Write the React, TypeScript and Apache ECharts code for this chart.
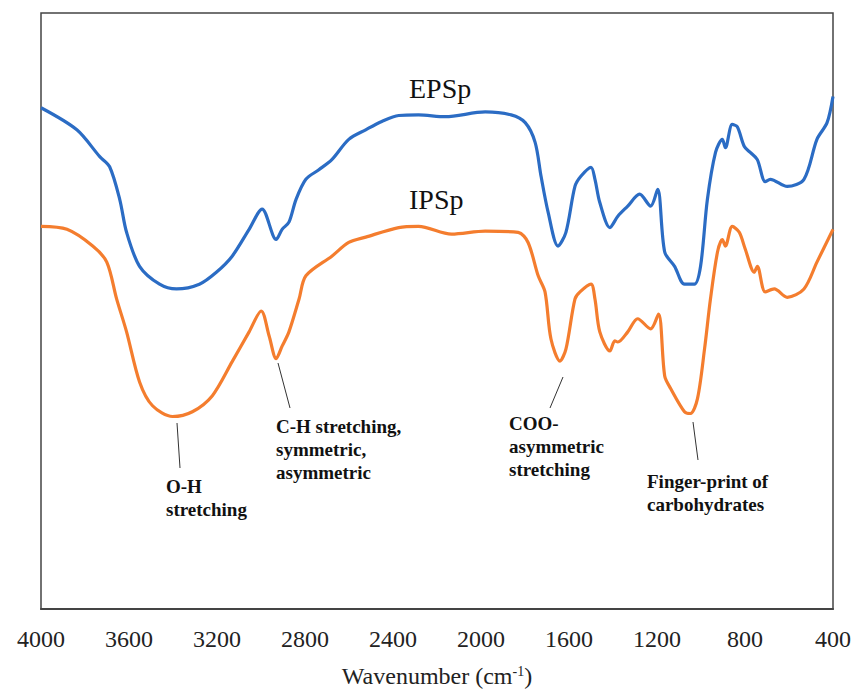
import React, { useEffect, useRef } from "react";
import * as echarts from "echarts";

// Wavenumber (cm-1) and relative transmittance (arbitrary units)
const epspWavenumber = [4000, 3837, 3733, 3688, 3642, 3611, 3552, 3461, 3384, 3280, 3203, 3131, 3054, 2995, 2931, 2904, 2873, 2841, 2796, 2737, 2678, 2601, 2524, 2451, 2374, 2284, 2162, 1981, 1863, 1799, 1754, 1727, 1695, 1650, 1614, 1573, 1546, 1500, 1482, 1460, 1414, 1378, 1333, 1279, 1229, 1197, 1165, 1120, 1075, 1030, 1002, 971, 934, 903, 889, 858, 835, 803, 776, 744, 708, 685, 608, 532, 473, 427, 400];
const epspValue = [84.1, 80.4, 75.9, 74.2, 68.7, 63.2, 57.5, 54.5, 53.7, 54.5, 56.5, 59.2, 63.7, 67.1, 62.0, 63.7, 64.9, 68.7, 72.1, 73.7, 75.4, 78.8, 80.4, 81.8, 82.8, 82.9, 82.6, 83.4, 82.9, 81.6, 78.3, 72.6, 66.6, 60.9, 63.2, 70.9, 72.6, 74.1, 72.1, 68.2, 64.0, 65.9, 67.6, 69.6, 67.6, 70.4, 59.9, 57.5, 54.5, 54.5, 57.5, 68.7, 76.6, 78.8, 77.4, 81.3, 80.9, 77.6, 76.6, 75.4, 71.7, 72.1, 70.9, 72.1, 78.8, 81.6, 86.0];

const ipspWavenumber = [4000, 3882, 3765, 3701, 3656, 3611, 3552, 3493, 3402, 3312, 3221, 3131, 3054, 2999, 2963, 2931, 2904, 2873, 2827, 2796, 2678, 2601, 2524, 2374, 2284, 2134, 1981, 1831, 1786, 1740, 1709, 1682, 1641, 1614, 1573, 1550, 1500, 1482, 1460, 1414, 1392, 1378, 1333, 1288, 1229, 1193, 1165, 1138, 1075, 1048, 1016, 984, 957, 925, 903, 889, 858, 826, 799, 758, 744, 708, 667, 608, 532, 473, 400];
const ipspValue = [64.2, 63.7, 60.9, 58.2, 52.0, 46.5, 38.1, 34.1, 32.3, 33.1, 35.8, 41.5, 46.5, 50.0, 45.8, 42.0, 44.1, 46.5, 52.0, 55.9, 59.2, 61.5, 62.4, 64.0, 64.2, 62.9, 63.4, 63.2, 61.5, 55.9, 53.2, 45.3, 41.6, 43.6, 52.0, 53.2, 54.5, 52.0, 46.5, 43.3, 45.0, 44.8, 46.5, 48.7, 47.0, 49.5, 39.1, 37.0, 33.1, 32.8, 35.3, 43.6, 52.0, 59.9, 62.0, 60.9, 64.2, 63.2, 60.4, 56.5, 57.5, 53.2, 53.7, 52.3, 53.7, 58.2, 63.7];

const seriesNames = ["EPSp", "IPSp"];
const seriesColors = ["#2B6CC4", "#F47D2E"];

const SERIF = "Liberation Serif";

export default function App() {
  const ref = useRef<HTMLDivElement>(null);
  useEffect(() => {
    if (!ref.current) return;
    const chart = echarts.init(ref.current, null, { renderer: "svg" });
    const pairs = (xs: number[], ys: number[]) => xs.map((x, i) => [x, ys[i]]);
    const annText = (x: number, y: number, text: string) => ({
      type: "text",
      x,
      y,
      style: {
        text,
        fontFamily: SERIF,
        fontWeight: "bold",
        fontSize: 19,
        fill: "#111",
        lineHeight: 23,
        verticalAlign: "top",
      },
    });
    const annLine = (x1: number, y1: number, x2: number, y2: number) => ({
      type: "line",
      shape: { x1, y1, x2, y2 },
      style: { stroke: "#333", lineWidth: 1 },
    });
    chart.setOption({
      animation: false,
      backgroundColor: "#fff",
      grid: {
        left: 41,
        top: 13,
        right: 18,
        bottom: 82,
        show: true,
        borderColor: "#444",
        borderWidth: 1.5,
      },
      xAxis: {
        type: "value",
        inverse: true,
        min: 400,
        max: 4000,
        interval: 400,
        axisLine: { show: true, lineStyle: { color: "#444", width: 2 } },
        axisTick: { show: false },
        splitLine: { show: false },
        axisLabel: {
          color: "#222",
          fontFamily: SERIF,
          fontSize: 24,
          margin: 18,
          formatter: (v: number) => String(v),
        },
        name: "Wavenumber (cm{sup|-1})",
        nameLocation: "middle",
        nameGap: 55,
        nameTextStyle: {
          color: "#222",
          fontFamily: SERIF,
          fontSize: 24,
          lineHeight: 24,
          rich: {
            sup: { fontFamily: SERIF, fontSize: 14, verticalAlign: "top", lineHeight: 14, padding: [0, 0, 10, 0], color: "#222" },
          },
        },
      },
      yAxis: {
        type: "value",
        min: 0,
        max: 100,
        show: false,
      },
      series: [
        {
          name: seriesNames[0],
          type: "line",
          data: pairs(epspWavenumber, epspValue),
          showSymbol: false,
          smooth: 0.3,
          lineStyle: { color: seriesColors[0], width: 3.2 },
        },
        {
          name: seriesNames[1],
          type: "line",
          data: pairs(ipspWavenumber, ipspValue),
          showSymbol: false,
          smooth: 0.3,
          lineStyle: { color: seriesColors[1], width: 3.2 },
        },
      ],
      graphic: [
        {
          type: "text",
          x: 409,
          y: 74,
          style: { text: seriesNames[0], fontFamily: SERIF, fontSize: 28, fill: "#111" },
        },
        {
          type: "text",
          x: 409,
          y: 185,
          style: { text: seriesNames[1], fontFamily: SERIF, fontSize: 28, fill: "#111" },
        },
        annLine(177, 423, 180, 468),
        annText(166, 475, "O-H\nstretching"),
        annLine(278, 363, 290, 408),
        annText(276, 415, "C-H stretching,\nsymmetric,\nasymmetric"),
        annLine(563, 377, 550, 408),
        annText(509, 412, "COO-\nasymmetric\nstretching"),
        annLine(693, 422, 698, 460),
        annText(647, 470, "Finger-print of\ncarbohydrates"),
      ],
    });
    return () => chart.dispose();
  }, []);
  return (
    <div
      ref={ref}
      style={{ position: "absolute", left: 0, top: 0, width: 854, height: 693 }}
    />
  );
}
